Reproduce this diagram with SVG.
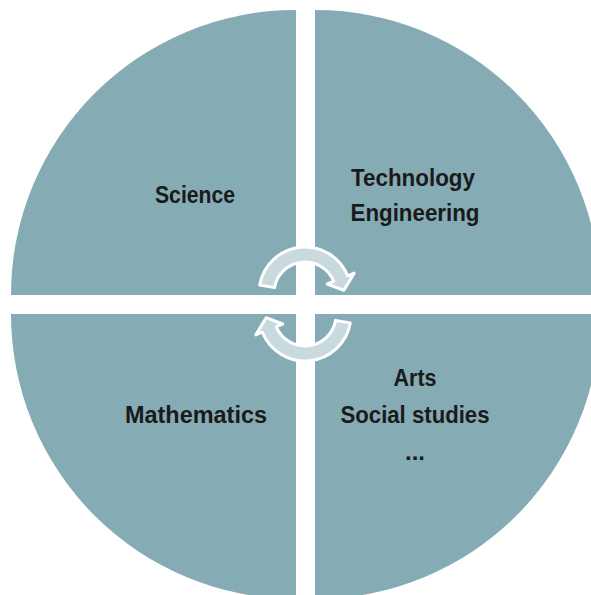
<svg xmlns="http://www.w3.org/2000/svg" width="591" height="595" viewBox="0 0 591 595">
<style>
.q{fill:#85ABB5;}
.t{font-family:"Liberation Sans",Arial,sans-serif;font-weight:bold;font-size:23px;fill:#1a1a1a;text-anchor:middle;}
.arr{fill:#C8DADE;stroke:#ffffff;stroke-width:3;stroke-linejoin:round;}
</style>
<defs>
<path id="cyc" d="M-45.3,-8 A46,46 0 0 1 42.65,-17.23 L49.14,-19.85 L38.9,-2.72 L22.25,-8.99 L28.74,-11.61 A31,31 0 0 0 -30.53,-5.38 Z"/>
</defs>
<rect width="591" height="595" fill="#ffffff"/>
<g id="science">
<path class="q" d="M296,295 L11,295 A285,285 0 0 1 296,10 Z"/>
<text class="t" x="195" y="203" textLength="80" lengthAdjust="spacingAndGlyphs">Science</text>
</g>
<g id="technology-engineering">
<path class="q" d="M315,295 L315,10 A285,285 0 0 1 600,295 Z"/>
<text class="t" x="413" y="186" textLength="124" lengthAdjust="spacingAndGlyphs">Technology</text>
<text class="t" x="415" y="221" textLength="129" lengthAdjust="spacingAndGlyphs">Engineering</text>
</g>
<g id="mathematics">
<path class="q" d="M296,314 L296,599 A285,285 0 0 1 11,314 Z"/>
<text class="t" x="196" y="423" textLength="142" lengthAdjust="spacingAndGlyphs">Mathematics</text>
</g>
<g id="arts-social-studies">
<path class="q" d="M315,314 L600,314 A285,285 0 0 1 315,599 Z"/>
<text class="t" x="415" y="386" textLength="43" lengthAdjust="spacingAndGlyphs">Arts</text>
<text class="t" x="415" y="423" textLength="149" lengthAdjust="spacingAndGlyphs">Social studies</text>
<text class="t" x="415" y="460" textLength="20" lengthAdjust="spacingAndGlyphs">...</text>
</g>
<g id="connectors">
<use href="#cyc" class="arr" transform="translate(305,293)"/>
<use href="#cyc" class="arr" transform="translate(305,315) rotate(180)"/>
</g>
</svg>
